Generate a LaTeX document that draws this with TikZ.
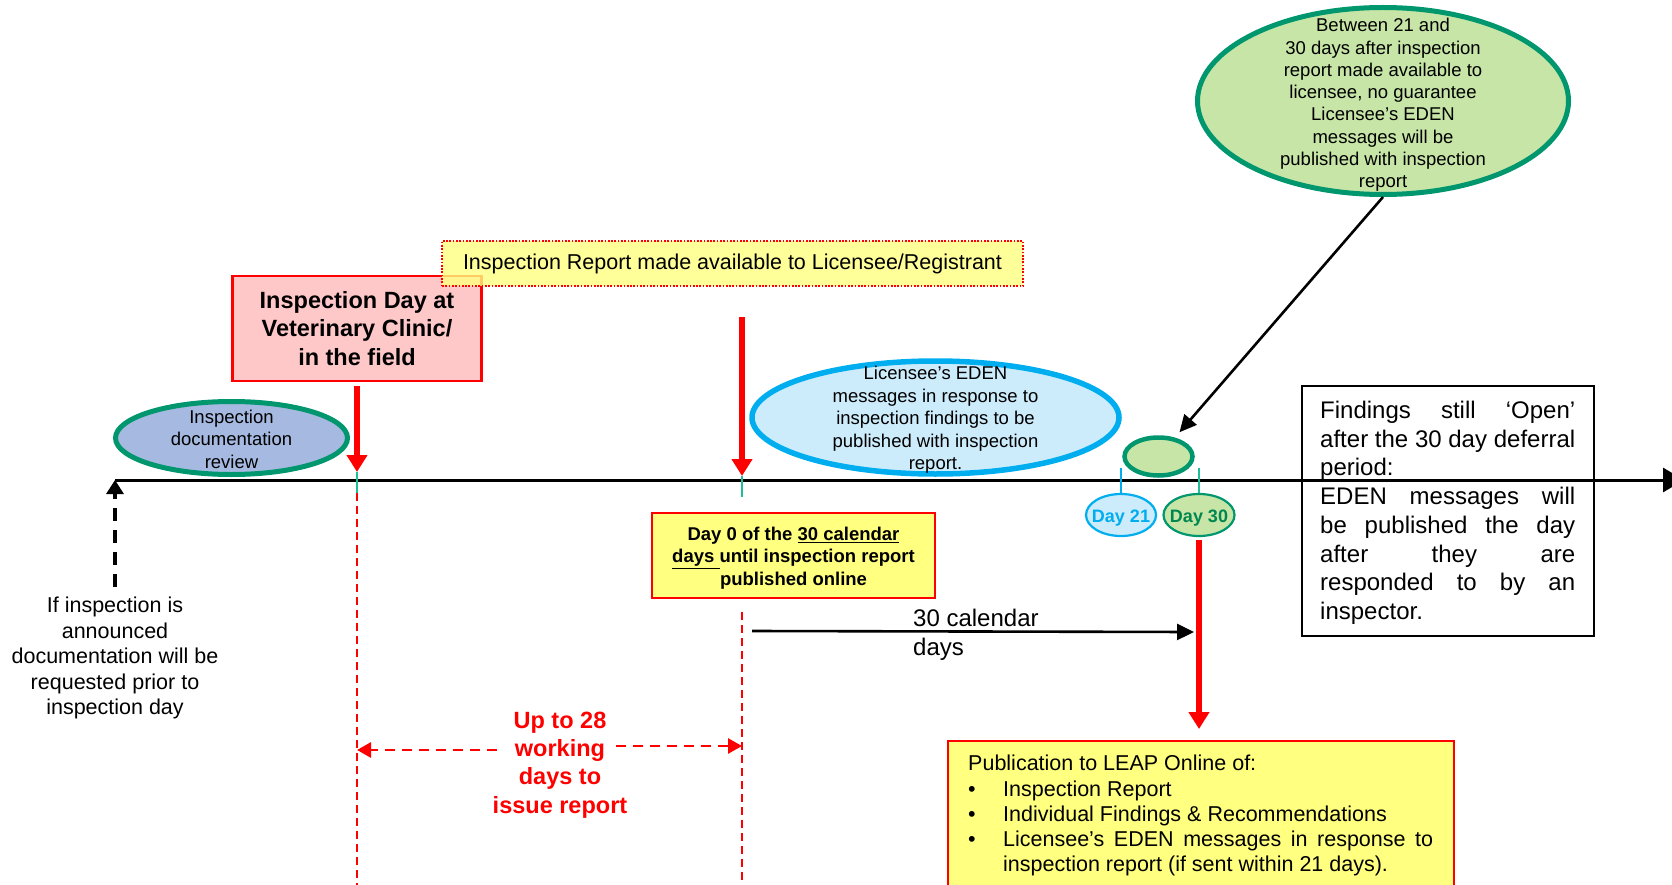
\documentclass[tikz,border=0pt]{standalone}
\usepackage{fontspec}
\setmainfont{Liberation Sans}
\usetikzlibrary{arrows.meta,shapes.geometric}
\definecolor{ringG}{RGB}{0,150,110}
\definecolor{docF}{RGB}{166,185,224}
\definecolor{lgrn}{RGB}{198,229,166}
\definecolor{lblu}{RGB}{204,236,252}
\definecolor{cyn}{RGB}{0,174,239}
\definecolor{pnk}{RGB}{255,200,200}
\definecolor{ylw}{RGB}{255,255,128}
\definecolor{rd}{RGB}{255,0,0}
\definecolor{tck}{RGB}{30,190,150}
\definecolor{dgrn}{RGB}{0,135,80}
\newcommand{\setfs}[2]{\fontsize{#1}{#2}\selectfont}
\newcommand{\jline}[2]{\makebox[#1][s]{#2}}
\begin{document}
\begin{tikzpicture}[x=1pt, y=-1pt,
  lab/.style={inner sep=0pt, align=center},
  ringell/.style={ellipse, draw=ringG, line width=5pt, inner sep=0pt},
  redarr/.style={draw=rd, line width=6pt, -{Triangle[width=20pt,length=17pt]}},
  rdash/.style={draw=rd, line width=2pt, dash pattern=on 8pt off 5pt},
  rdash2/.style={draw=rd, line width=2.8pt, dash pattern=on 10pt off 7pt, -{Triangle[width=15pt,length=14pt]}},
  tickl/.style={line width=1.8pt},
  blkarr/.style={draw=black, line width=2.6pt, -{Triangle[width=16pt,length=17pt]}},
  rbox/.style={rectangle, inner sep=0pt, line width=2.2pt}]
\useasboundingbox (0,0) rectangle (1672,885);

% big green ellipse
\node[ringell, fill=lgrn, minimum width=371, minimum height=187] (gbig) at (1383,101) {};
\node[lab, font=\setfs{18.5}{22.3}] (gbigT) at (1383,105) {Between 21 and\\30 days after inspection\\report made available to\\licensee, no guarantee\\Licensee’s EDEN\\messages will be\\published with inspection\\report};

% documentation ellipse
\node[ringell, fill=docF, minimum width=232, minimum height=73] (doc) at (231.5,438) {};
\node[lab, font=\setfs{18.5}{22.5}] (docT) at (231.5,439) {Inspection\\documentation\\review};

% inspection day box
\node[rbox, draw=rd, fill=pnk, minimum width=249, minimum height=105, font=\bfseries\setfs{23.5}{28.5}, align=center] (insp) at (357,328.5) {Inspection Day at\\Veterinary Clinic/\\in the field};

% report available box
\node[rbox, draw=rd, line width=1.7pt, dash pattern=on 1.7pt off 1.6pt, fill=ylw, fill opacity=0.8, text opacity=1, minimum width=581, minimum height=45, font=\setfs{21.5}{25}] (avail) at (732.5,263.5) {Inspection Report made available to Licensee/Registrant};

% EDEN ellipse
\node[ellipse, draw=cyn, line width=5.5pt, fill=lblu, inner sep=0pt, minimum width=367, minimum height=113] (eden) at (935.5,417.5) {};
\node[lab, font=\setfs{18.5}{22.5}] (edenT) at (935.5,420) {Licensee’s EDEN\\messages in response to\\inspection findings to be\\published with inspection\\report.};

% small green ellipse
\node[ringell, line width=4.5pt, fill=lgrn, minimum width=68, minimum height=38] (gsmall) at (1158.5,456.5) {};

% axis
\coordinate (axL) at (115,480);
\coordinate (axR) at (1684,480);
\draw[line width=3pt, -{Triangle[width=24pt,length=21pt]}] (axL) -- (axR);

% announced documentation
\coordinate (annB) at (115,587);
\draw[line width=3.2pt, dash pattern=on 13pt off 9pt, -{Triangle[width=17pt,length=14pt]}] (annB) -- (axL);
\node[lab, font=\setfs{21.5}{25.5}] (ann) at (115,658) {If inspection is\\announced\\documentation will be\\requested prior to\\inspection day};

% inspection day arrow
\coordinate (d1) at (357,472);
\draw[redarr, shorten <=4pt] (insp.south) -- (d1);
\draw[tck, tickl] (d1) -- ++(0,21) coordinate (d1b);
\coordinate (d1e) at (357,892);
\draw[rdash] (d1b) -- (d1e);

% report available arrow
\coordinate (a2) at (742,317);
\coordinate (d0) at (742,476);
\draw[redarr] (a2) -- (d0);
\draw[tck, tickl] (d0) -- ++(0,21);

% Day 0 box
\node[rbox, draw=rd, fill=ylw, minimum width=283, minimum height=85] (day0) at (793.5,555.5) {};
\node[lab, font=\bfseries\setfs{18.5}{22.5}] (day0T) at (793.5,558) {Day 0 of the \underline{30 calendar}\\\underline{days\ }until inspection report\\published online};
\coordinate (d0b) at (742,612);
\coordinate (d0e) at (742,892);
\draw[rdash] (d0b) -- (d0e);

% 30 calendar days
\coordinate (c30a) at (752,631);
\coordinate (c30b) at (1194,632);
\draw[blkarr] (c30a) -- (c30b);
\node[lab, anchor=west, align=left, font=\setfs{24}{29}] (c30T) at (913,635) {30 calendar\\days};

% up to 28 working days
\node[lab, text=rd, font=\bfseries\setfs{23.5}{28.3}] (upto) at (560,765) {Up to 28\\working\\days to\\issue report};
\coordinate (upLs) at (497,750);
\coordinate (upLt) at (357,750);
\coordinate (upRs) at (616,746);
\coordinate (upRt) at (742,746);
\draw[rdash2] (upLs) -- (upLt);
\draw[rdash2] (upRs) -- (upRt);

% Day 21 / Day 30
\node[ellipse, draw=cyn, line width=2.2pt, fill=lblu, inner sep=0pt, minimum width=70, minimum height=42] (day21) at (1121,515) {};
\node[lab, text=cyn, font=\bfseries\setfs{18}{20}] (day21T) at (1121,518) {Day 21};
\node[ellipse, draw=ringG, line width=2.2pt, fill=lgrn, inner sep=0pt, minimum width=71, minimum height=42] (day30) at (1199,515) {};
\node[lab, text=dgrn, font=\bfseries\setfs{18}{20}] (day30T) at (1199,518) {Day 30};
\draw[cyn, tickl] (day21.north) -- ++(0,-25);
\draw[tck, tickl] (day30.north) -- ++(0,-25);

% big ellipse to small ellipse
\draw[blkarr, shorten >=7pt] (gbig.south) -- (gsmall);

% findings box
\node[rbox, draw=black, minimum width=292, minimum height=250] (find) at (1448,511) {};
\node[lab, anchor=north west, align=left, font=\setfs{24}{28.7}] (findT) at (1320,401) {\jline{255pt}{Findings still ‘Open’}\\\jline{255pt}{after the 30 day deferral}\\period:\\\jline{255pt}{EDEN messages will}\\\jline{255pt}{be published the day}\\\jline{255pt}{after they are}\\\jline{255pt}{responded to by an}\\inspector.};

% publication box
\node[rbox, draw=rd, fill=ylw, minimum width=506, minimum height=170, anchor=north] (pub) at (1201,740) {};
\draw[redarr, shorten <=3pt, shorten >=11pt] (day30.south) -- (day30.south |- pub.north);
\node[lab, anchor=north west, align=left, font=\setfs{21.5}{25.3}] (pubT) at (968,755) {Publication to LEAP Online of:\\\makebox[35pt][l]{\textbullet}Inspection Report\\\makebox[35pt][l]{\textbullet}Individual Findings \& Recommendations\\\makebox[35pt][l]{\textbullet}\jline{430pt}{Licensee’s EDEN messages in response to}\\\hspace*{35pt}inspection report (if sent within 21 days).};
\end{tikzpicture}
\end{document}
